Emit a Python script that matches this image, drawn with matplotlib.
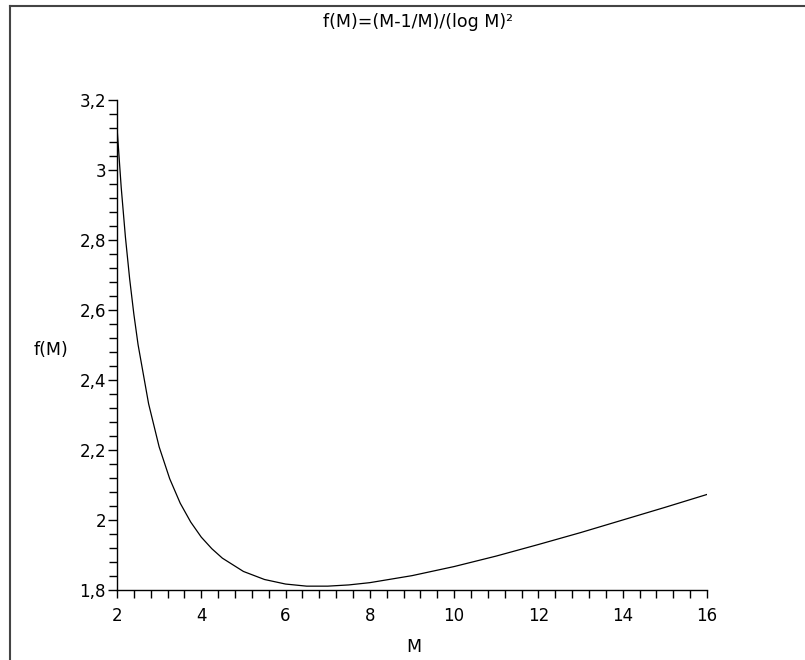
import matplotlib
matplotlib.use("Agg")
import matplotlib.pyplot as plt
from matplotlib.ticker import MultipleLocator, FuncFormatter
from matplotlib.lines import Line2D

plt.rcParams['font.family'] = ['DejaVu Sans']

# Values
M_values = [2.0, 2.1, 2.2, 2.3, 2.4, 2.5, 2.75, 3.0, 3.25, 3.5, 3.75, 4.0, 4.25,
            4.5, 5.0, 5.5, 6.0, 6.5, 7.0, 7.5, 8.0, 9.0, 10.0, 11.0, 12.0,
            13.0, 14.0, 15.0, 16.0]
f_values = [3.122, 2.950, 2.808, 2.689, 2.588, 2.501, 2.332, 2.209, 2.118, 2.048,
            1.994, 1.951, 1.918, 1.891, 1.853, 1.830, 1.817, 1.811, 1.811, 1.8145,
            1.821, 1.841, 1.867, 1.897, 1.930, 1.964, 2.000, 2.036, 2.073]

title_text = "f(M)=(M-1/M)/(log M)²"
xlabel_text = "M"
ylabel_text = "f(M)"

fig = plt.figure(figsize=(8.05, 6.6), dpi=100)
ax = fig.add_axes([117/805, 1-590/660, (707-117)/805, (590-100)/660])

ax.plot(M_values, f_values, color='black', lw=0.9)
ax.set_xlim(2, 16)
ax.set_ylim(1.8, 3.2)

for s in ['top', 'right']:
    ax.spines[s].set_visible(False)
for s in ['left', 'bottom']:
    ax.spines[s].set_linewidth(1.0)
    ax.spines[s].set_color('black')

ax.xaxis.set_major_locator(MultipleLocator(2))
ax.xaxis.set_minor_locator(MultipleLocator(0.4))
ax.yaxis.set_major_locator(MultipleLocator(0.2))
ax.yaxis.set_minor_locator(MultipleLocator(0.04))

fmt = FuncFormatter(lambda v, p: ('%g' % round(v, 3)).replace('.', ','))
ax.xaxis.set_major_formatter(fmt)
ax.yaxis.set_major_formatter(fmt)

ax.tick_params(which='both', direction='out', width=1.0, labelsize=12)
ax.tick_params(axis='y', which='major', length=6.5, pad=1.5)
ax.tick_params(axis='y', which='minor', length=6)
ax.tick_params(axis='x', which='major', length=5.5, pad=6.5)
ax.tick_params(axis='x', which='minor', length=5.5)

fig.text(418/805, 1-22/660, title_text, ha='center', va='center', fontsize=12.5)
fig.text(51/805, 1-350/660, ylabel_text, ha='center', va='center', fontsize=12.5)
fig.text(414/805, 1-647/660, xlabel_text, ha='center', va='center', fontsize=12.5)

# outer frame (top and left lines)
fig.add_artist(Line2D([10/805, 1.0], [1-6/660, 1-6/660], color='#444444', lw=1.5))
fig.add_artist(Line2D([10/805, 10/805], [0.0, 1-6/660], color='#444444', lw=1.5))

fig.savefig("out.png", dpi=100)
